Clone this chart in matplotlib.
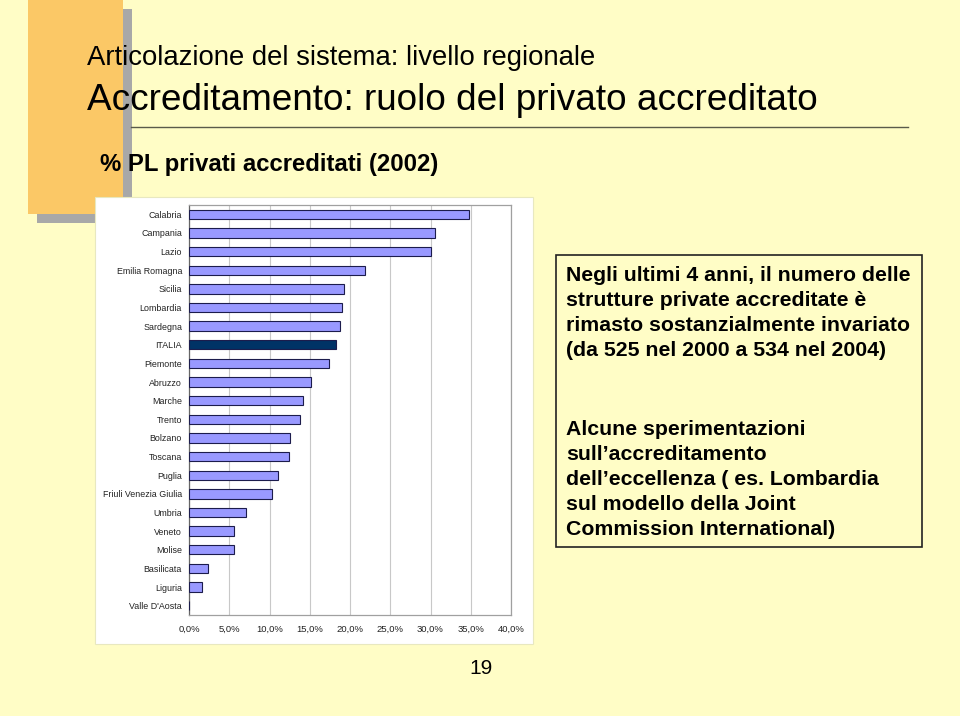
import matplotlib
matplotlib.use("Agg")
import matplotlib.pyplot as plt
from matplotlib.patches import Rectangle
from matplotlib.ticker import FuncFormatter

regions = ["Calabria", "Campania", "Lazio", "Emilia Romagna", "Sicilia", "Lombardia",
           "Sardegna", "ITALIA", "Piemonte", "Abruzzo", "Marche", "Trento", "Bolzano",
           "Toscana", "Puglia", "Friuli Venezia Giulia", "Umbria", "Veneto", "Molise",
           "Basilicata", "Liguria", "Valle D'Aosta"]
values = [34.8, 30.6, 30.1, 21.9, 19.2, 19.0, 18.7, 18.3, 17.4, 15.2, 14.1, 13.8, 12.5,
          12.4, 11.1, 10.35, 7.1, 5.6, 5.6, 2.3, 1.6, 0.0]
x_ticks = [0, 5, 10, 15, 20, 25, 30, 35, 40]

title1 = "Articolazione del sistema: livello regionale"
title2 = "Accreditamento: ruolo del privato accreditato"
subtitle = "% PL privati accreditati (2002)"
box_text1 = ("Negli ultimi 4 anni, il numero delle\nstrutture private accreditate è\n"
             "rimasto sostanzialmente invariato\n(da 525 nel 2000 a 534 nel 2004)")
box_text2 = ("Alcune sperimentazioni\nsull\u2019accreditamento\ndell\u2019eccellenza ( es. Lombardia\n"
             "sul modello della Joint\nCommission International)")
page_no = "19"

plt.rcParams['font.family'] = ['Liberation Sans', 'DejaVu Sans']

W, H = 960, 716
fig = plt.figure(figsize=(W / 100, H / 100), dpi=100)
fig.patch.set_facecolor('#FFFDC6')

def fx(x):
    return x / W

def fy(y):
    return 1 - y / H

# decorative shapes
fig.patches.append(Rectangle((fx(37), fy(223)), fx(95), 214 / H, transform=fig.transFigure,
                             facecolor='#A8A8A8', edgecolor='none', zorder=0))
fig.patches.append(Rectangle((fx(28), fy(214)), fx(95), 214 / H, transform=fig.transFigure,
                             facecolor='#FBC866', edgecolor='none', zorder=0))
# chart white area
fig.patches.append(Rectangle((fx(95), fy(644)), fx(438), 447 / H, transform=fig.transFigure,
                             facecolor='white', edgecolor='#E8E8C0', lw=0.8, zorder=1))
# title rule
fig.add_artist(plt.Line2D([fx(131), fx(908)], [fy(127), fy(127)], transform=fig.transFigure,
                          color='#5A5A4A', lw=1.0))

fig.text(fx(87), fy(58), title1, fontsize=19.8, va='center', ha='left', color='#000000', zorder=3)
fig.text(fx(87), fy(100), title2, fontsize=26.6, va='center', ha='left', color='#000000', zorder=3)
fig.text(fx(100), fy(165), subtitle, fontsize=17.2, fontweight='bold', va='center', ha='left',
         color='#000000', zorder=3)

# text box
fig.patches.append(Rectangle((fx(556), fy(547)), fx(366), 292 / H, transform=fig.transFigure,
                             facecolor='none', edgecolor='#222222', lw=1.2, zorder=2))
fig.text(fx(566), fy(266), box_text1, fontsize=15.3, fontweight='bold', va='top', ha='left',
         linespacing=1.41, color='#000000')
fig.text(fx(566), fy(420), box_text2, fontsize=15.3, fontweight='bold', va='top', ha='left',
         linespacing=1.40, color='#000000')
fig.text(fx(481), fy(668), page_no, fontsize=15, va='center', ha='center', color='#000000')

# bar chart
ax = fig.add_axes([fx(189), fy(615), fx(511 - 189), (615 - 205) / H])
ax.set_zorder(5)
ax.set_facecolor('white')
ypos = list(range(len(regions)))
colors = ['#003366' if r == "ITALIA" else '#9999FF' for r in regions]
ax.barh(ypos, values, height=0.5, color=colors, edgecolor='#1C1C4C', linewidth=0.8, zorder=3)
ax.set_ylim(len(regions) - 0.5, -0.5)
ax.set_xlim(0, 40)
ax.set_xticks(x_ticks)
ax.xaxis.set_major_formatter(FuncFormatter(lambda v, p: f"{v:.1f}%".replace('.', ',')))
ax.set_yticks(ypos)
ax.set_yticklabels(regions)
ax.tick_params(axis='y', length=0, labelsize=6.4, pad=5, colors='#222222')
ax.tick_params(axis='x', length=0, labelsize=6.8, pad=7, colors='#222222')
ax.grid(axis='x', color='#C8C8C8', lw=0.8, zorder=0)
for s in ax.spines.values():
    s.set_color('#A0A0A0')
    s.set_linewidth(0.9)
ax.spines['left'].set_color('#666666')

fig.savefig('out.png', dpi=100, facecolor=fig.get_facecolor())
